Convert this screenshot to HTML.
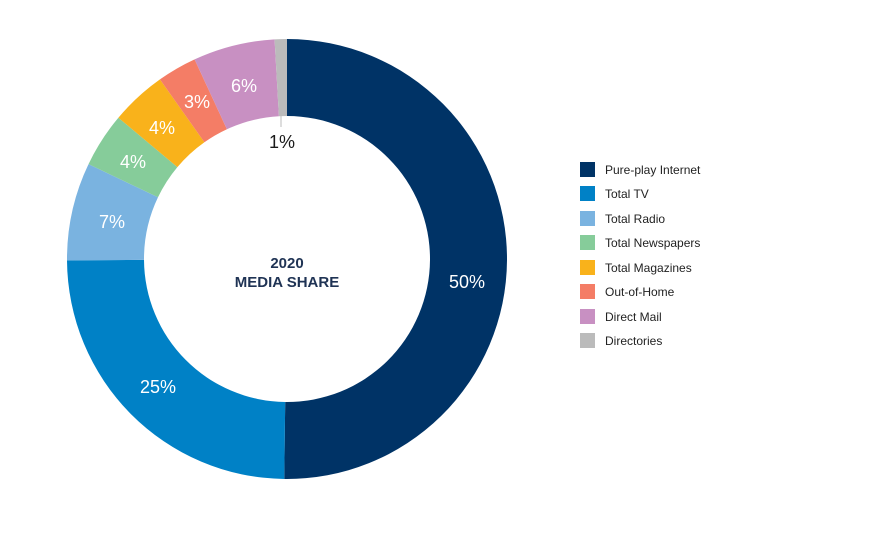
<!DOCTYPE html>
<html><head><meta charset="utf-8"><style>
body{margin:0;background:#fff;}
svg{display:block;font-family:"Liberation Sans",sans-serif;}
</style></head><body>
<svg id="s" width="877" height="539" viewBox="0 0 877 539" xmlns="http://www.w3.org/2000/svg">
<rect width="877" height="539" fill="#fff"/>
<g id="slices"></g>
<line x1="281" y1="116" x2="281" y2="127" stroke="#bbb" stroke-width="1"/>
<g fill="#fff" font-size="18" text-anchor="middle">
<text x="467" y="288">50%</text>
<text x="158" y="393">25%</text>
<text x="112" y="228">7%</text>
<text x="133" y="168">4%</text>
<text x="162" y="134">4%</text>
<text x="197" y="108">3%</text>
<text x="244" y="92">6%</text>
</g>
<text x="282" y="148" font-size="18" fill="#1a1a1a" text-anchor="middle">1%</text>
<g font-size="15" font-weight="bold" fill="#1f3354" text-anchor="middle">
<text x="287" y="268">2020</text>
<text x="287" y="287">MEDIA SHARE</text>
</g>
<g font-size="12" fill="#222">
<rect x="580" y="162" width="15" height="15" fill="#003366"/><text x="605" y="174">Pure-play Internet</text>
<rect x="580" y="186" width="15" height="15" fill="#0081c6"/><text x="605" y="198">Total TV</text>
<rect x="580" y="211" width="15" height="15" fill="#7ab3e0"/><text x="605" y="223">Total Radio</text>
<rect x="580" y="235" width="15" height="15" fill="#86cc9a"/><text x="605" y="247">Total Newspapers</text>
<rect x="580" y="260" width="15" height="15" fill="#f9b21b"/><text x="605" y="272">Total Magazines</text>
<rect x="580" y="284" width="15" height="15" fill="#f47d66"/><text x="605" y="296">Out-of-Home</text>
<rect x="580" y="309" width="15" height="15" fill="#c890c2"/><text x="605" y="321">Direct Mail</text>
<rect x="580" y="333" width="15" height="15" fill="#bbbbbb"/><text x="605" y="345">Directories</text>
</g>
</svg>
<script>
var cx=287,cy=259,R=220,r=143;
var b=[0,0.502,0.749,0.821,0.861,0.902,0.931,0.991,1];
var c=["#003366","#0081c6","#7ab3e0","#86cc9a","#f9b21b","#f47d66","#c890c2","#bbbbbb"];
function p(f,rad){var a=f*2*Math.PI;return [cx+rad*Math.sin(a),cy-rad*Math.cos(a)];}
var g=document.getElementById("slices"),h="";
for(var i=0;i<8;i++){var a0=b[i],a1=b[i+1],L=(a1-a0)>0.5?1:0;
var A=p(a0,R),B=p(a1,R),C=p(a1,r),D=p(a0,r);
h+='<path fill="'+c[i]+'" d="M'+A+' A'+R+','+R+' 0 '+L+' 1 '+B+' L'+C+' A'+r+','+r+' 0 '+L+' 0 '+D+' Z"/>';}
g.innerHTML=h;
</script>
</body></html>
